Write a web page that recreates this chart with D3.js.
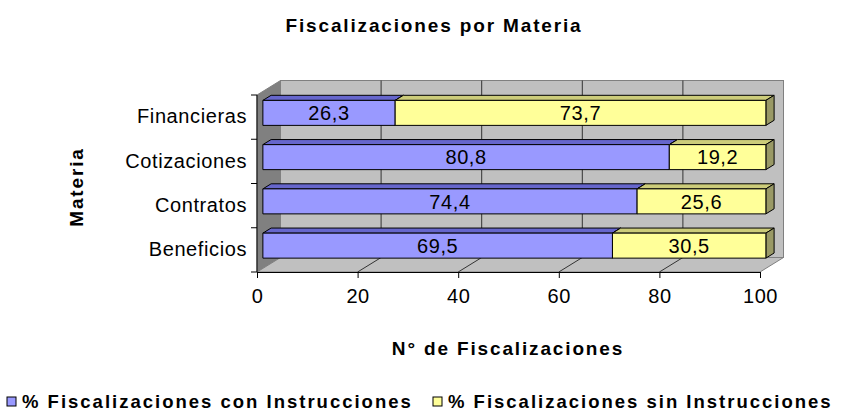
<!DOCTYPE html>
<meta charset="utf-8">
<style>
body { margin: 0; background: #fff; }
text { font-family: "Liberation Sans", Arial, sans-serif; fill: #000; }
.bold { font-weight: bold; font-size: 19px; letter-spacing: 1.85px; }
.legtxt { font-weight: bold; font-size: 18.5px; letter-spacing: 2px; }
.lbl { font-size: 20px; letter-spacing: 0.6px; }
.grid { stroke: #333; stroke-width: 1; fill: none; }
.face { stroke: #000; stroke-width: 1; stroke-linejoin: round; }
</style>
<body>
<script src="https://d3js.org/d3.v7.min.js"></script>
<script>
// data
var categories = ["Financieras", "Cotizaciones", "Contratos", "Beneficios"];
var conInstr = [26.3, 80.8, 74.4, 69.5];
var sinInstr = [73.7, 19.2, 25.6, 30.5];
var xTicks = [0, 20, 40, 60, 80, 100];
var seriesNames = ["% Fiscalizaciones con Instrucciones", "% Fiscalizaciones sin Instrucciones"];

var colors = {
  con: {front: "#9999FF", top: "#6666CC", side: "#4D4D99"},
  sin: {front: "#FFFF99", top: "#CCCC7A", side: "#999966"}
};

var width = 845, height = 414;
var front = {left: 257, right: 760, top: 95, bottom: 272};
var depth = {dx: 23.5, dy: 14.5};
var barFront = 0.25, barBack = 0.6, barH = 25;

var x = d3.scaleLinear().domain([0, 100]).range([front.left, front.right]);
var y = d3.scaleBand().domain(categories).range([front.top, front.bottom]);

function off(t) { return [t * depth.dx, -t * depth.dy]; }
var fmt = function(v) { return d3.format(".1f")(v).replace(".", ","); };

var svg = d3.select("body").append("svg")
    .attr("width", width)
    .attr("height", height);

// walls
var bx = depth.dx, by = -depth.dy;
svg.append("rect")
    .attr("x", front.left + bx).attr("y", front.top + by)
    .attr("width", front.right - front.left).attr("height", front.bottom - front.top)
    .attr("fill", "#C0C0C0").attr("stroke", "#808080");
svg.append("polygon")
    .attr("points", [[front.left, front.top], [front.left + bx, front.top + by],
                     [front.left + bx, front.bottom + by], [front.left, front.bottom]].join(" "))
    .attr("fill", "#808080").attr("stroke", "#808080");
svg.append("polygon")
    .attr("points", [[front.left, front.bottom], [front.left + bx, front.bottom + by],
                     [front.right + bx, front.bottom + by], [front.right, front.bottom]].join(" "))
    .attr("fill", "#C0C0C0").attr("stroke", "#808080");

// gridlines on back wall and floor
svg.selectAll(".vgrid").data(xTicks.slice(1, -1)).enter().append("line")
    .attr("class", "grid")
    .attr("x1", function(d) { return x(d) + bx; })
    .attr("x2", function(d) { return x(d) + bx; })
    .attr("y1", front.top + by)
    .attr("y2", front.bottom + by);
svg.selectAll(".fgrid").data(xTicks.slice(1, -1)).enter().append("line")
    .attr("class", "grid")
    .attr("x1", function(d) { return x(d); })
    .attr("y1", front.bottom)
    .attr("x2", function(d) { return x(d) + bx; })
    .attr("y2", front.bottom + by);

// stacked bars
var rows = categories.map(function(c, i) { return {cat: c, con: conInstr[i], sin: sinInstr[i]}; });
var stack = d3.stack().keys(["con", "sin"])(rows);

var o0 = off(barFront), o1 = off(barBack);
var pad = 9;

stack.forEach(function(layer) {
  var col = colors[layer.key];
  var g = svg.append("g");
  var seg = g.selectAll("g").data(layer).enter().append("g");

  seg.append("polygon").attr("class", "face")
      .attr("fill", col.top)
      .attr("points", function(d) {
        var x0 = x(d[0]), x1 = x(d[1]), yt = y(d.data.cat) + pad;
        return [[x0 + o0[0], yt + o0[1]], [x0 + o1[0], yt + o1[1]],
                [x1 + o1[0], yt + o1[1]], [x1 + o0[0], yt + o0[1]]].join(" ");
      });
  seg.append("polygon").attr("class", "face")
      .attr("fill", col.side)
      .attr("points", function(d) {
        var x1 = x(d[1]), yt = y(d.data.cat) + pad;
        return [[x1 + o0[0], yt + o0[1]], [x1 + o1[0], yt + o1[1]],
                [x1 + o1[0], yt + barH + o1[1]], [x1 + o0[0], yt + barH + o0[1]]].join(" ");
      });
  seg.append("rect").attr("class", "face")
      .attr("fill", col.front)
      .attr("x", function(d) { return x(d[0]) + o0[0]; })
      .attr("y", function(d) { return y(d.data.cat) + pad + o0[1]; })
      .attr("width", function(d) { return x(d[1]) - x(d[0]); })
      .attr("height", barH);
  seg.append("text").attr("class", "lbl")
      .attr("text-anchor", "middle")
      .attr("x", function(d) { return (x(d[0]) + x(d[1])) / 2 + o0[0]; })
      .attr("y", function(d) { return y(d.data.cat) + pad + o0[1] + barH / 2; })
      .attr("dy", "0.36em")
      .text(function(d) { return fmt(d[1] - d[0]); });
});

// x axis
var xAxis = svg.append("g")
    .attr("transform", "translate(0," + front.bottom + ")")
    .call(d3.axisBottom(x).tickValues(xTicks).tickSize(6).tickSizeOuter(0).tickPadding(11));
xAxis.select(".domain").attr("stroke", "#000");
xAxis.selectAll("text").attr("class", "lbl");
xAxis.attr("font-family", null).attr("font-size", null);

// y axis (ticks between categories)
svg.append("line")
    .attr("x1", front.left).attr("x2", front.left)
    .attr("y1", front.top).attr("y2", front.bottom)
    .attr("stroke", "#000");
svg.selectAll(".ytick").data(categories.map(function(c) { return y(c); }).concat([front.bottom]))
  .enter().append("line")
    .attr("x1", front.left - 6).attr("x2", front.left)
    .attr("y1", function(d) { return d; }).attr("y2", function(d) { return d; })
    .attr("stroke", "#000");
svg.selectAll(".ylab").data(categories).enter().append("text")
    .attr("class", "lbl")
    .attr("text-anchor", "end")
    .attr("x", 247)
    .attr("y", function(d) { return y(d) + y.bandwidth() / 2 - 1; })
    .attr("dy", "0.36em")
    .text(function(d) { return d; });

// titles
svg.append("text").attr("class", "bold")
    .attr("x", 434).attr("y", 32)
    .attr("text-anchor", "middle")
    .text("Fiscalizaciones por Materia");
svg.append("text").attr("class", "bold")
    .attr("x", 508).attr("y", 355)
    .attr("text-anchor", "middle")
    .text("N° de Fiscalizaciones");
svg.append("text").attr("class", "bold")
    .attr("transform", "translate(83,187) rotate(-90)")
    .attr("text-anchor", "middle")
    .text("Materia");

// legend
var legendX = [7, 433];
var legend = svg.selectAll(".legend").data(seriesNames).enter().append("g")
    .attr("transform", function(d, i) { return "translate(" + legendX[i] + ",0)"; });
legend.append("rect")
    .attr("x", 0).attr("y", 397).attr("width", 9).attr("height", 9)
    .attr("fill", function(d, i) { return i === 0 ? colors.con.front : colors.sin.front; })
    .attr("stroke", "#000");
legend.append("text").attr("class", "legtxt")
    .attr("x", 15).attr("y", 408)
    .text(function(d) { return d; });
</script>
</body>
